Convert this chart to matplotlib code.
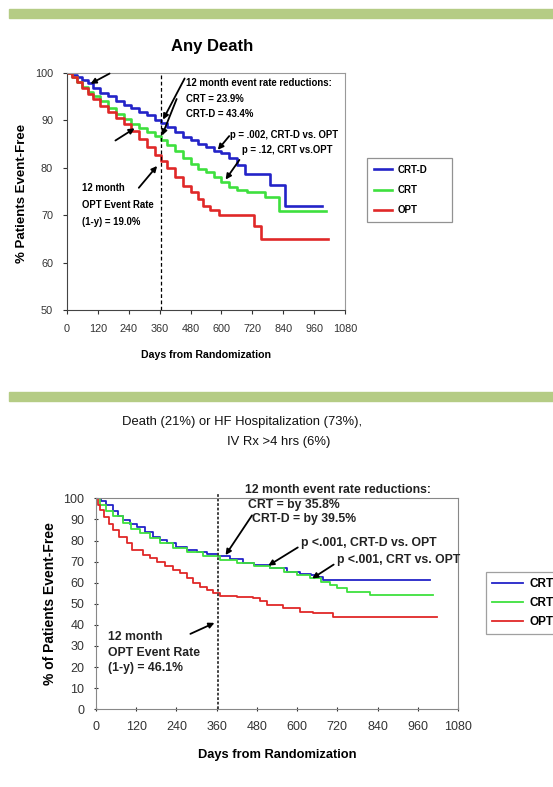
import matplotlib
matplotlib.use("Agg")
import matplotlib.pyplot as plt
from matplotlib.patches import Rectangle

# -------- DATA ------------------------------------------------------
# Any Death (Kaplan-Meier, % event-free)
death_crtd_days = [0, 20, 40, 60, 80, 100, 130, 160, 190, 220, 250, 280, 310, 340, 365,
                   390, 420, 450, 480, 510, 540, 570, 600, 630, 660, 690, 790, 845, 990]
death_crtd_vals = [100, 99.5, 99, 98.5, 97.8, 96.8, 95.8, 95.0, 94.0, 93.2, 92.5, 91.8, 91.0, 90.0, 89.5,
                   88.5, 87.5, 86.5, 85.8, 85.0, 84.3, 83.6, 83.0, 82.0, 80.5, 78.7, 76.3, 72.0, 72.0]

death_crt_days = [0, 20, 40, 60, 80, 100, 130, 160, 190, 220, 250, 280, 310, 340, 365,
                  390, 420, 450, 480, 510, 540, 570, 600, 630, 660, 700, 770, 825, 1008]
death_crt_vals = [100, 99, 98, 97, 96, 95, 94, 92.5, 91.3, 90.2, 89.2, 88.4, 87.5, 86.6, 85.8,
                  84.8, 83.5, 82.0, 80.8, 79.8, 79.0, 78.0, 77.0, 76.0, 75.3, 74.8, 73.8, 70.8, 70.8]

death_opt_days = [0, 20, 40, 60, 80, 100, 130, 160, 190, 220, 250, 280, 310, 340, 365,
                  390, 420, 450, 480, 510, 530, 555, 590, 725, 752, 1013]
death_opt_vals = [100, 99, 98, 96.8, 95.5, 94.5, 93, 91.7, 90.5, 89.2, 87.8, 86.0, 84.3, 82.6, 81.3,
                  80, 78, 76.2, 74.8, 73.3, 72, 71, 70, 67.6, 65, 65]

# Death or HF hospitalization
hf_crtd_days = [0, 15, 31, 50, 65, 81, 100, 121, 145, 171, 190, 211, 240, 270, 300, 330, 365,
                400, 440, 470, 520, 569, 610, 640, 660, 678, 996]
hf_crtd_vals = [100, 98.5, 96.8, 94, 91.5, 89.7, 88, 86.5, 84, 81.8, 80.2, 78.7, 77, 75.5, 74.5, 73.6, 72.5,
                71, 69.5, 68.4, 66.8, 65.2, 64.2, 63.6, 62.5, 61.3, 61.3]

hf_crt_days = [0, 12, 30, 50, 81, 105, 131, 160, 191, 230, 270, 320, 370, 420, 470, 519,
               560, 600, 638, 670, 698, 720, 748, 817, 1006]
hf_crt_vals = [100, 97, 94, 91.5, 88.1, 85.5, 83.4, 81, 78.7, 76.5, 74.7, 72.7, 70.8, 69.5, 68, 66.8,
               65, 63.5, 62.1, 60.5, 58.9, 57.5, 55.7, 54.2, 54.2]

hf_opt_days = [0, 5, 12, 25, 40, 52, 70, 91, 106, 141, 160, 181, 205, 230, 250, 270, 290, 310,
               330, 350, 370, 420, 469, 490, 509, 559, 608, 648, 708, 1016]
hf_opt_vals = [100, 97, 94.5, 91, 88, 85, 81.5, 78.7, 75.5, 73.1, 71.5, 70, 68, 66, 64.5, 62.1, 60, 58.1,
               56.5, 55, 53.7, 53.2, 52.6, 51.5, 49.4, 47.9, 46.3, 45.5, 43.9, 43.9]

x_ticks = [0, 120, 240, 360, 480, 600, 720, 840, 960, 1080]
labels = ["CRT-D", "CRT", "OPT"]
# --------------------------------------------------------------------

BLUE = "#2323c8"
GREEN = "#3ee03e"
RED = "#e02828"
BAND = "#b5cc85"
FONT = ["Liberation Sans", "DejaVu Sans"]

W, H = 553, 787


def fx(px):
    return px / W


def fy(py):
    return 1 - py / H


fig = plt.figure(figsize=(W / 100, H / 100), dpi=100)
fig.patch.set_facecolor("white")
plt.rcParams["font.family"] = FONT

# green header bands
for y0, y1 in [(9, 18), (392, 401)]:
    fig.patches.append(Rectangle((fx(9), fy(y1)), 1 - fx(9), (y1 - y0) / H,
                                 transform=fig.transFigure, color=BAND, zorder=0))

# ---------------- top chart: Any Death ----------------
ax1 = fig.add_axes([fx(67), fy(310), (345 - 67) / W, (310 - 72.7) / H])
ax1.plot(death_crtd_days, death_crtd_vals, drawstyle="steps-post", color=BLUE, lw=1.9, label=labels[0])
ax1.plot(death_crt_days, death_crt_vals, drawstyle="steps-post", color=GREEN, lw=1.9, label=labels[1])
ax1.plot(death_opt_days, death_opt_vals, drawstyle="steps-post", color=RED, lw=1.9, label=labels[2])
ax1.axvline(365, color="black", lw=0.9, ls=(0, (3, 2)))
ax1.set_xlim(0, 1080)
ax1.set_ylim(50, 100)
ax1.set_xticks(x_ticks)
ax1.set_yticks(range(50, 101, 10))
ax1.tick_params(length=3, width=0.8, pad=7, labelsize=7.8, colors="#333333")
for s in ["left", "bottom"]:
    ax1.spines[s].set_color("#444444")
for s in ["top", "right"]:
    ax1.spines[s].set_color("#999999")
ax1.set_xlabel("Days from Randomization", fontsize=7.6, fontweight="bold")
ax1.xaxis.set_label_coords(0.5, -0.17)
ax1.set_ylabel("% Patients Event-Free", fontsize=9.5, fontweight="bold")
ax1.yaxis.set_label_coords(-0.14, 0.49)

fig.text(fx(212), fy(46.5), "Any Death", fontsize=12, fontweight="bold",
         ha="center", va="center")

tkw = dict(fontsize=6.9, fontweight="bold", va="center", ha="left")
akw = dict(arrowstyle="-|>", color="black", lw=1.3, mutation_scale=8)
ax1.text(462, 97.8, "12 month event rate reductions:", **tkw)
ax1.text(462, 94.5, "CRT = 23.9%", **tkw)
ax1.text(462, 91.3, "CRT-D = 43.4%", **tkw)
ax1.annotate("", xy=(368, 89.6), xytext=(462, 99.3), arrowprops=akw)
ax1.annotate("", xy=(365, 86.2), xytext=(430, 95.0), arrowprops=akw)
ax1.annotate("", xy=(82, 97.4), xytext=(175, 100.1), arrowprops=akw, annotation_clip=False)
ax1.annotate("", xy=(272, 88.6), xytext=(179, 85.4), arrowprops=akw)
ax1.text(57, 75.7, "12 month", **tkw)
ax1.text(57, 72.2, "OPT Event Rate", **tkw)
ax1.text(57, 68.6, "(1-y) = 19.0%", **tkw)
ax1.annotate("", xy=(357, 80.8), xytext=(272, 75.3), arrowprops=akw)
ax1.text(633, 86.9, "p = .002, CRT-D vs. OPT", **tkw)
ax1.annotate("", xy=(579, 83.3), xytext=(637, 87.1), arrowprops=akw)
ax1.text(679, 83.8, "p = .12, CRT vs.OPT", **tkw)
ax1.annotate("", xy=(610, 77.0), xytext=(676, 82.1), arrowprops=akw)

leg1 = fig.legend(loc="upper left", bbox_to_anchor=(fx(367), fy(223), 85 / W, 65 / H),
                  mode="expand", borderaxespad=0,
                  prop=dict(size=7, weight="bold"),
                  handlelength=1.9, handletextpad=0.6, labelspacing=1.05,
                  fancybox=False, borderpad=0.7, handles=ax1.get_lines()[:3])
leg1.get_frame().set_edgecolor("#777777")
leg1.get_frame().set_linewidth(0.9)

# ---------------- bottom chart: Death or HF hospitalization ----------------
ax2 = fig.add_axes([fx(96), fy(709.3), (458 - 96) / W, (709.3 - 498.3) / H])
ax2.plot(hf_crtd_days, hf_crtd_vals, drawstyle="steps-post", color=BLUE, lw=1.3, label=labels[0])
ax2.plot(hf_crt_days, hf_crt_vals, drawstyle="steps-post", color=GREEN, lw=1.3, label=labels[1])
ax2.plot(hf_opt_days, hf_opt_vals, drawstyle="steps-post", color=RED, lw=1.3, label=labels[2])
ax2.axvline(365, ymin=0, ymax=1.02, color="#333333", lw=1.3, ls=(0, (1.5, 1)), clip_on=False)
ax2.set_xlim(0, 1080)
ax2.set_ylim(0, 100)
ax2.set_xticks(x_ticks)
ax2.set_yticks(range(0, 101, 10))
ax2.tick_params(length=3, width=0.8, pad=7, labelsize=9, colors="#333333", direction="inout")
for s in ax2.spines.values():
    s.set_color("#888888")
ax2.set_xlabel("Days from Randomization", fontsize=9.3, fontweight="bold")
ax2.xaxis.set_label_coords(0.5, -0.187)
ax2.set_ylabel("% of Patients Event-Free", fontsize=10, fontweight="bold")
ax2.yaxis.set_label_coords(-0.108, 0.5)

fig.text(fx(242), fy(422), "Death (21%) or HF Hospitalization (73%),",
         fontsize=9.4, ha="center", va="center", color="#111111")
fig.text(fx(279), fy(442), "IV Rx >4 hrs (6%)",
         fontsize=9.4, ha="center", va="center", color="#111111")

bkw = dict(fontsize=8.8, fontweight="bold", va="center", ha="left", color="#222222")
ax2.text(444, 103.9, "12 month event rate reductions:", clip_on=False, **bkw)
ax2.text(453, 96.8, "CRT = by 35.8%", **bkw)
ax2.text(466, 90.2, "CRT-D = by 39.5%", **bkw)
ax2.annotate("", xy=(382, 72.0), xytext=(470, 93.0), arrowprops=akw)
ax2.text(612, 78.8, "p <.001, CRT-D vs. OPT", **bkw)
ax2.annotate("", xy=(507, 67.4), xytext=(609, 77.4), arrowprops=akw)
ax2.text(719, 70.8, "p <.001, CRT vs. OPT", **bkw)
ax2.annotate("", xy=(638, 61.3), xytext=(716, 69.3), arrowprops=akw)
ax2.text(36, 34.4, "12 month", **bkw)
ax2.text(36, 26.8, "OPT Event Rate", **bkw)
ax2.text(36, 19.6, "(1-y) = 46.1%", **bkw)
ax2.annotate("", xy=(361, 41.5), xytext=(274, 35.2), arrowprops=akw)

# the legend runs past the right edge of the figure, as in the source slide
leg2 = fig.legend(loc="upper left", bbox_to_anchor=(fx(486), fy(572)), borderaxespad=0,
                  prop=dict(size=8.5, weight="bold"),
                  handlelength=2.6, handletextpad=0.6, labelspacing=0.6,
                  fancybox=False, borderpad=0.5, handles=ax2.get_lines()[:3])
leg2.get_frame().set_edgecolor("#888888")
leg2.get_frame().set_linewidth(0.9)

fig.savefig("out.png", dpi=100)
